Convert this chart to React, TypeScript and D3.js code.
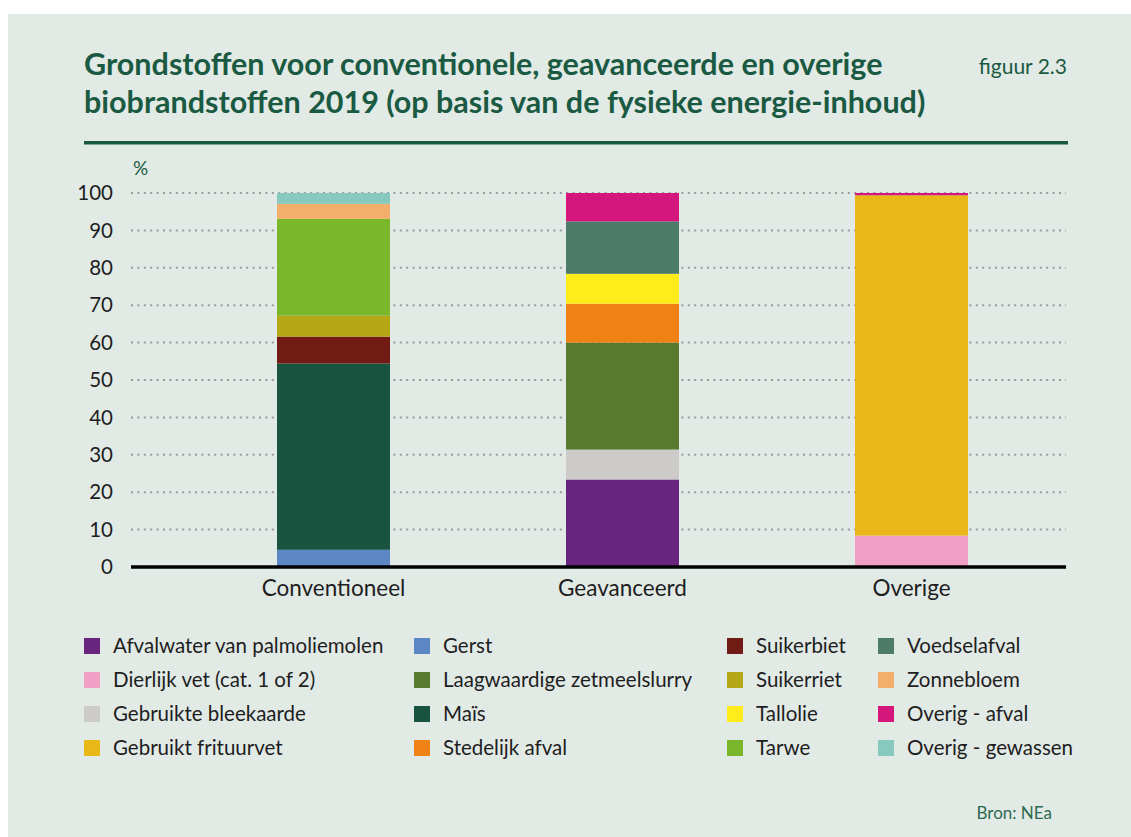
import React from "react";
import * as d3 from "d3";

const categories = ["Conventioneel", "Geavanceerd", "Overige"];

const feedstocks = [
  "Afvalwater van palmoliemolen",
  "Dierlijk vet (cat. 1 of 2)",
  "Gebruikte bleekaarde",
  "Gebruikt frituurvet",
  "Gerst",
  "Laagwaardige zetmeelslurry",
  "Maïs",
  "Stedelijk afval",
  "Suikerbiet",
  "Suikerriet",
  "Tallolie",
  "Tarwe",
  "Voedselafval",
  "Zonnebloem",
  "Overig - afval",
  "Overig - gewassen",
];

const feedstockColors = [
  "#68247f",
  "#f0a0c4",
  "#cccbc9",
  "#e9b718",
  "#5b87c5",
  "#577930",
  "#195440",
  "#f08115",
  "#721a14",
  "#b5a816",
  "#ffec1a",
  "#7bb72a",
  "#4c7b69",
  "#f4ae6c",
  "#d5177d",
  "#88c9bf",
];

// values per feedstock (same order as feedstocks), in %
const conventioneelValues = [0, 0, 0, 0, 4.6, 0, 49.8, 0, 7.2, 5.6, 0, 25.9, 0, 4.0, 0, 2.9];
const geavanceerdValues = [23.4, 0, 8.0, 0, 0, 28.6, 0, 10.4, 0, 0, 8.0, 0, 14.0, 0, 7.6, 0];
const overigeValues = [0, 8.4, 0, 91.0, 0, 0, 0, 0, 0, 0, 0, 0, 0, 0, 0.6, 0];

const yTicks = [0, 10, 20, 30, 40, 50, 60, 70, 80, 90, 100];

const W = 1131;
const H = 837;
const GREEN = "#1b5a42";
const FONT = "Lato, 'Open Sans', sans-serif";

export default function App() {
  const seriesByCat = [conventioneelValues, geavanceerdValues, overigeValues];
  const rows = categories.map((c, i) => {
    const r: any = { cat: c };
    feedstocks.forEach((f, j) => (r[f] = seriesByCat[i][j]));
    return r;
  });
  const stack = d3.stack<any>().keys(feedstocks);
  const stacked = stack(rows);

  const x = d3
    .scaleBand<string>()
    .domain(categories)
    .range([189, 1056])
    .paddingInner(0.609)
    .paddingOuter(0.3045);
  const y = d3.scaleLinear().domain([0, 100]).range([567, 193]);

  const gridX0 = 131;
  const gridX1 = 1066;

  const legendCols = [84, 414, 727, 878];
  const legendRows = [646, 680, 714, 748];

  return (
    <svg
      width={W}
      height={H}
      style={{ position: "absolute", left: 0, top: 0, display: "block" }}
    >
      <rect x={0} y={0} width={W} height={H} fill="#ffffff" />
      <rect x={8} y={14} width={W - 8} height={H - 14} fill="#e2eae6" />

      {/* Title */}
      <text x={84} y={75} fontFamily={FONT} fontWeight={700} fontSize={30.5} fill={GREEN}>
        Grondstoffen voor conventionele, geavanceerde en overige
      </text>
      <text x={84} y={113} fontFamily={FONT} fontWeight={700} fontSize={30.5} fill={GREEN}>
        biobrandstoffen 2019 (op basis van de fysieke energie-inhoud)
      </text>
      <text x={1067} y={74} textAnchor="end" fontFamily={FONT} fontSize={21} fill={GREEN}>
        figuur 2.3
      </text>
      <rect x={84} y={141} width={984} height={3.5} fill={GREEN} />

      {/* unit */}
      <text x={133} y={175} fontFamily={FONT} fontSize={19} fill={GREEN}>
        %
      </text>

      {/* gridlines */}
      {yTicks.map((t) =>
        t === 0 ? null : (
          <line
            key={t}
            x1={gridX0}
            x2={gridX1}
            y1={y(t)}
            y2={y(t)}
            stroke="#9a9a9a"
            strokeWidth={2}
            strokeDasharray="2 4.4"
          />
        )
      )}

      {/* y tick labels */}
      {yTicks.map((t) => (
        <text
          key={t}
          x={113}
          y={y(t)}
          dy="0.35em"
          textAnchor="end"
          fontFamily={FONT}
          fontSize={20.5}
          fill="#1e1e1e"
        >
          {t}
        </text>
      ))}

      {/* bars */}
      {stacked.map((s, i) => (
        <g key={s.key} fill={feedstockColors[i]}>
          {s.map((d: any) => {
            const h = y(d[0]) - y(d[1]);
            if (h <= 0) return null;
            return (
              <rect
                key={d.data.cat}
                x={x(d.data.cat)}
                y={y(d[1])}
                width={x.bandwidth()}
                height={h}
              />
            );
          })}
        </g>
      ))}

      {/* axis line */}
      <line x1={gridX0} x2={gridX1} y1={y(0)} y2={y(0)} stroke="#000" strokeWidth={3.5} />

      {/* x labels */}
      {categories.map((c) => (
        <text
          key={c}
          x={(x(c) as number) + x.bandwidth() / 2}
          y={596}
          textAnchor="middle"
          fontFamily={FONT}
          fontSize={22.5}
          fill="#1e1e1e"
        >
          {c}
        </text>
      ))}

      {/* legend */}
      {feedstocks.map((f, i) => {
        const col = Math.floor(i / 4);
        const row = i % 4;
        const lx = legendCols[col];
        const ly = legendRows[row];
        return (
          <g key={f}>
            <rect x={lx} y={ly - 8} width={16} height={16} fill={feedstockColors[i]} />
            <text
              x={lx + 29}
              y={ly}
              dy="0.35em"
              fontFamily={FONT}
              fontSize={20.5}
              fill="#1e1e1e"
            >
              {f}
            </text>
          </g>
        );
      })}

      {/* source */}
      <text x={1052} y={819} textAnchor="end" fontFamily={FONT} fontSize={17} fill="#2c6a50">
        Bron: NEa
      </text>
    </svg>
  );
}
